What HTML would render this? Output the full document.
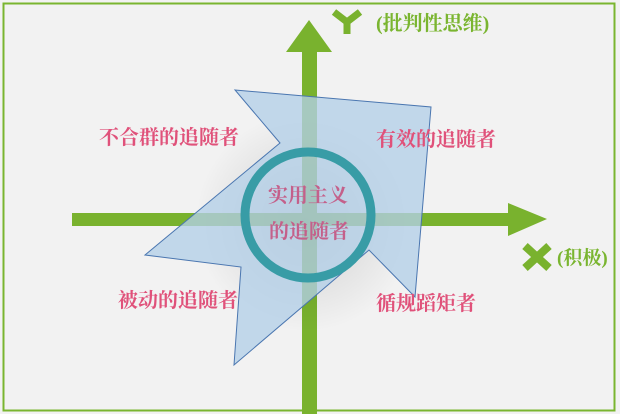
<!DOCTYPE html>
<html><head><meta charset="utf-8"><style>
body{margin:0;background:#fff;}
svg text{font-family:"Liberation Serif","Noto Serif CJK SC",serif;font-weight:bold;}
</style></head><body>
<svg width="620" height="414" viewBox="0 0 620 414" xmlns="http://www.w3.org/2000/svg">
<defs><radialGradient id="g" cx="0.5" cy="0.5" r="0.5"><stop offset="0" stop-color="#000" stop-opacity="0.15"/><stop offset="1" stop-color="#000" stop-opacity="0"/></radialGradient></defs>
<rect x="0" y="0" width="620" height="414" fill="#f2f2f2"/>
<rect x="3.5" y="3.5" width="611" height="407" fill="none" stroke="#7ab530" stroke-width="2"/>
<rect x="302" y="48" width="15" height="366" fill="#79b22e"/>
<polygon points="309,20 286,52 332,52" fill="#79b22e"/>
<rect x="72" y="213" width="440" height="13" fill="#79b22e"/>
<polygon points="547,219 508,203 508,236" fill="#79b22e"/>
<circle cx="305" cy="222" r="110" fill="url(#g)"/>
<polygon points="235,90 431,107 415,297 369,250 234,365 241,267 145,255 280,143" fill="#b4cfe8" fill-opacity="0.78" stroke="#4a76b0" stroke-width="1"/>
<circle cx="308" cy="215" r="63" fill="none" stroke="#389ca6" stroke-width="9"/>
<path d="M334,12 L347,22 L360,12" fill="none" stroke="#79b22e" stroke-width="7" stroke-linejoin="round"/>
<rect x="343.5" y="20" width="7" height="14" fill="#79b22e"/>
<path d="M525,246 L549,268 M549,246 L525,268" stroke="#79b22e" stroke-width="8"/>
<text x="376" y="30" font-size="20" fill="#7ab530">(批判性思维)</text>
<text x="557" y="264" font-size="19" fill="#7ab530">(积极)</text>
<g font-size="20" fill="#e0517a">
<text x="99" y="144">不合群的追随者</text>
<text x="376" y="146">有效的追随者</text>
<text x="118" y="307">被动的追随者</text>
<text x="376" y="310">循规蹈矩者</text>
</g>
<g font-size="20" fill="#c4608a">
<text x="268" y="202">实用主义</text>
<text x="269" y="238">的追随者</text>
</g>
</svg>
</body></html>
